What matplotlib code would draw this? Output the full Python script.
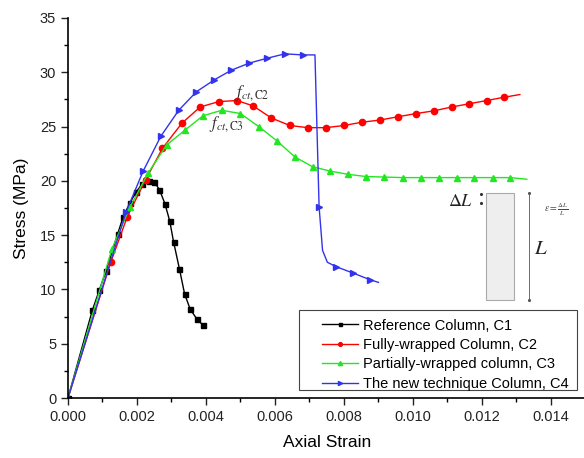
import matplotlib
matplotlib.use("Agg")
import matplotlib.pyplot as plt
from matplotlib.patches import Rectangle
from matplotlib.ticker import MultipleLocator

plt.rcParams['font.family'] = ['Liberation Sans', 'DejaVu Sans']
plt.rcParams['mathtext.fontset'] = 'stix'

# reference column, C1
c1_strain = [0.0, 0.000705, 0.000908, 0.0011, 0.00144, 0.0016, 0.0018, 0.00198, 0.00215, 0.00236,
             0.0025, 0.00265, 0.00281, 0.00295, 0.00306, 0.00323, 0.00338, 0.00354, 0.00373, 0.0039]
c1_stress = [0.0, 8.07, 9.94, 11.67, 15.1, 16.7, 18.0, 19.0, 19.7, 20.0,
             19.9, 19.2, 17.9, 16.3, 14.4, 11.9, 9.6, 8.2, 7.3, 6.75]

# fully-wrapped, C2
c2_strain = [0.0, 0.00124, 0.00172, 0.00225, 0.00274, 0.0033, 0.00383, 0.00437, 0.0049, 0.00537,
             0.00589, 0.00643, 0.00695, 0.00748, 0.008, 0.00852, 0.00904, 0.00956, 0.01009, 0.01061,
             0.01112, 0.01163, 0.01214, 0.01264, 0.0131]
c2_stress = [0.0, 12.5, 16.7, 20.1, 23.0, 25.3, 26.8, 27.3, 27.4, 26.9,
             25.8, 25.1, 24.9, 24.9, 25.1, 25.4, 25.6, 25.9, 26.2, 26.45,
             26.8, 27.1, 27.4, 27.7, 27.95]
c2_marks = list(range(1, 24))

# partially-wrapped, C3
c3_strain = [0.0, 0.00127, 0.0018, 0.00233, 0.00286, 0.0034, 0.00392, 0.00446, 0.005, 0.00553,
             0.00605, 0.00658, 0.00709, 0.0076, 0.00812, 0.00864, 0.00917, 0.0097, 0.01023, 0.01076,
             0.01127, 0.01178, 0.01231, 0.01282, 0.0133]
c3_stress = [0.0, 13.7, 17.6, 20.75, 23.3, 24.7, 26.0, 26.5, 26.2, 25.0,
             23.7, 22.2, 21.3, 20.9, 20.6, 20.4, 20.35, 20.3, 20.3, 20.3,
             20.3, 20.3, 20.3, 20.3, 20.15]
c3_marks = list(range(1, 24))

# new technique, C4
c4_strain = [0.0, 0.00168, 0.00218, 0.00269, 0.00321, 0.00372, 0.00424, 0.00474, 0.00526, 0.00578,
             0.00629, 0.0068, 0.00716, 0.00728, 0.00738, 0.00752, 0.00777, 0.00827, 0.00875, 0.009]
c4_stress = [0.0, 17.1, 20.9, 24.1, 26.5, 28.2, 29.3, 30.2, 30.85, 31.3,
             31.7, 31.6, 31.6, 17.6, 13.6, 12.5, 12.1, 11.5, 10.9, 10.65]
c4_marks = [0, 1, 2, 3, 4, 5, 6, 7, 8, 9, 10, 11, 13, 16, 17, 18]

fig = plt.figure(figsize=(5.84, 4.58), dpi=100)
ax = fig.add_axes([0.1164, 0.131, 0.886, 0.8297])

ax.plot(c1_strain, c1_stress, color='black', lw=1, marker='s', ms=3.6,
        label='Reference Column, C1')
ax.plot(c2_strain, c2_stress, color='red', lw=1, marker='o', ms=4.5, markevery=c2_marks,
        label='Fully-wrapped Column, C2')
ax.plot(c3_strain, c3_stress, color='#22e622', lw=1, marker='^', ms=5, markevery=c3_marks,
        label='Partially-wrapped column, C3')
ax.plot(c4_strain, c4_stress, color='#3333ee', lw=1, marker='>', ms=5, markevery=c4_marks,
        label='The new technique Column, C4')

ax.set_xlim(0, 0.015)
ax.set_ylim(0, 35)
ax.xaxis.set_major_locator(MultipleLocator(0.002))
ax.xaxis.set_minor_locator(MultipleLocator(0.001))
ax.yaxis.set_major_locator(MultipleLocator(5))
ax.yaxis.set_minor_locator(MultipleLocator(2.5))
ax.xaxis.set_major_formatter(matplotlib.ticker.FormatStrFormatter('%.3f'))
ax.tick_params(which='major', direction='out', length=5, width=1, labelsize=10.5, colors='#222222')
ax.tick_params(which='minor', direction='out', length=3, width=1)
ax.spines['top'].set_visible(False)
ax.spines['right'].set_visible(False)
for s in ['left', 'bottom']:
    ax.spines[s].set_linewidth(1.2)

ax.set_xlabel('Axial Strain', fontsize=12.5, labelpad=8)
ax.set_ylabel('Stress (MPa)', fontsize=12.5, labelpad=8)

# legend without its own frame, box drawn separately
leg = ax.legend(loc='upper left', bbox_to_anchor=(0.491, 0.209), fontsize=10.5,
                frameon=False, handlelength=2.47, borderpad=0, labelspacing=0.37,
                handletextpad=0.34, markerscale=0.6, borderaxespad=0)
ax.add_patch(Rectangle((0.4465, 0.021), 0.5373, 0.2106, transform=ax.transAxes,
                       facecolor='white', edgecolor='#444444', lw=0.8, zorder=4))
leg.set_zorder(5)

# peak labels
ax.text(0.0048, 27.7, r'$f_{ct,\mathrm{C2}}$', fontsize=12, color='#333333')
ax.text(0.0041, 24.9, r'$f_{ct,\mathrm{C3}}$', fontsize=12, color='#333333')

# specimen sketch
ax.add_patch(Rectangle((0.01212, 9.0), 0.00081, 9.9, facecolor='#eeeeee',
                       edgecolor='#aaaaaa', lw=0.8))
ax.text(0.01175, 18.1, r'$\Delta L$', fontsize=13, ha='right', va='center', color='#222222')
ax.plot([0.01197, 0.01197], [18.75, 18.0], ls='none', marker='.', ms=2.5, color='#333333')
ax.plot([0.01336, 0.01336], [18.9, 9.0], color='#555555', lw=0.6, marker='.', ms=2.5)
ax.text(0.01371, 13.8, r'$L$', fontsize=15, ha='center', va='center', color='#222222')
ax.text(0.01417, 17.4, r'$\varepsilon=\frac{\Delta L}{L}$', fontsize=7, ha='center', va='center',
        color='#444444')

fig.savefig('out.png', dpi=100)
